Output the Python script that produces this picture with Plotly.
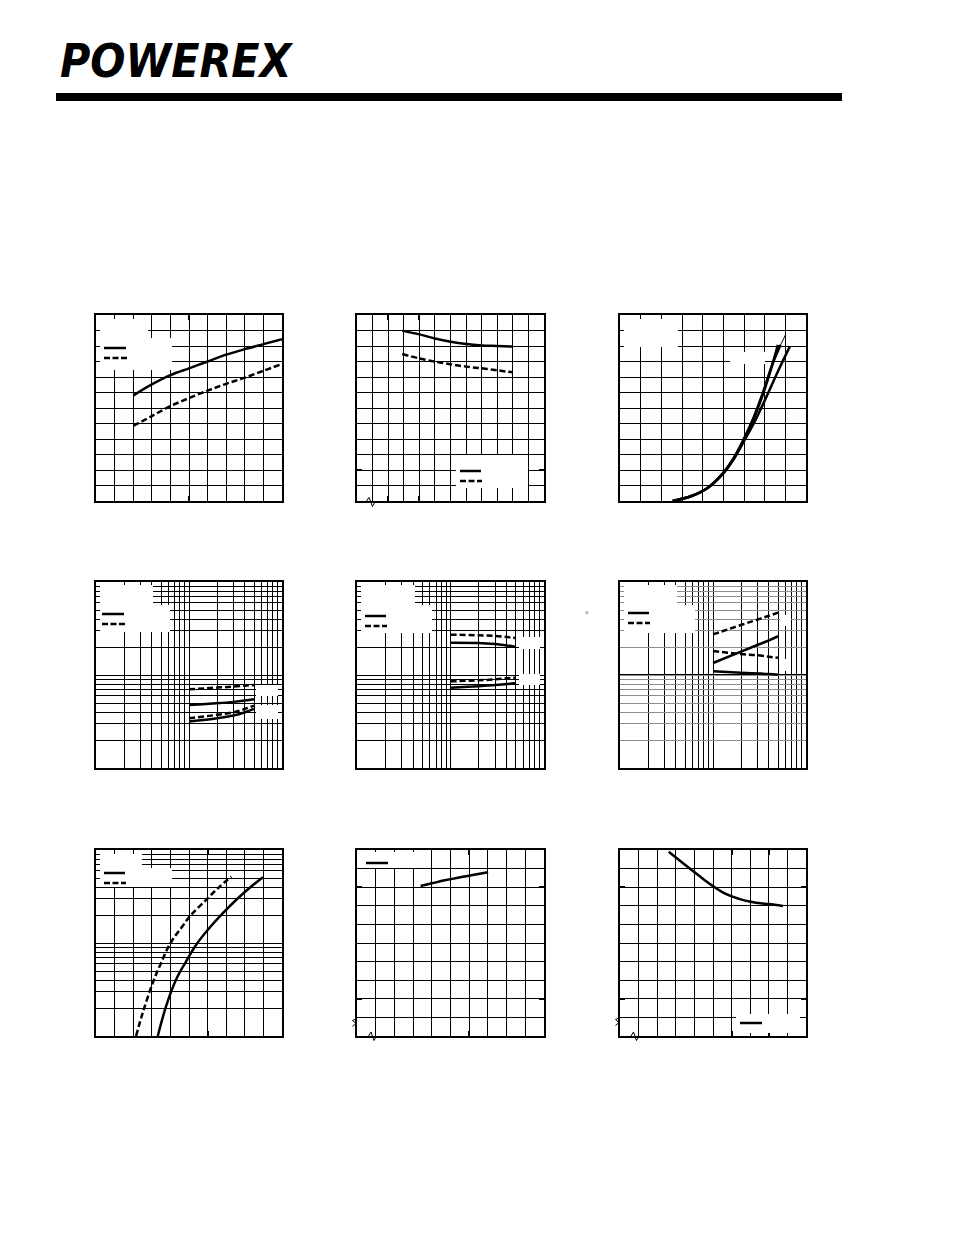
import plotly.graph_objects as go

OFF = 8                      # default page margin of the written html
W, H = 954 - 2 * OFF, 1235 - 2 * OFF

# ---------------- data ----------------
# Chart 1 (linear / linear)
c1_x_solid = [20, 30, 40, 50, 60, 70, 80, 90, 100]
c1_y_solid = [1.70, 1.88, 2.03, 2.14, 2.25, 2.36, 2.45, 2.53, 2.61]
c1_x_dash = [20, 30, 40, 50, 60, 70, 80, 90, 99]
c1_y_dash = [1.21, 1.37, 1.53, 1.66, 1.78, 1.89, 1.99, 2.10, 2.20]

# Chart 2 (linear / linear, broken axis)
c2_x = [29, 40, 50, 60, 70, 80, 90, 100]
c2_y_solid = [1.899, 1.875, 1.849, 1.828, 1.813, 1.804, 1.800, 1.796]
c2_y_dash = [1.748, 1.720, 1.699, 1.682, 1.667, 1.656, 1.643, 1.630]

# Chart 3 (linear / linear) - bundle of transfer curves
c3_xa = [5.1, 6.9, 8.5, 10.0, 11.05, 12.0, 12.97, 13.93, 14.64, 15.28]
c3_ya = [0, 3.2, 8.6, 18.2, 27.9, 39.6, 53.6, 70.7, 85.7, 100.7]
c3_xb = [5.1, 6.9, 8.5, 10.0, 11.05, 12.0, 12.97, 13.93, 14.73, 15.53]
c3_yb = [0, 3.2, 8.6, 18.2, 28.3, 40.3, 54.6, 71.8, 87.9, 100.7]
c3_xc = [5.1, 6.9, 8.5, 10.0, 11.05, 12.0, 13.13, 14.19, 15.28, 16.43]
c3_yc = [0, 3.0, 8.4, 17.8, 27.4, 38.6, 52.5, 67.5, 83.6, 99.6]
c3_xd = [13.93, 14.89, 16.01]
c3_yd = [72.9, 91.1, 107.1]

# Chart 4 (log / log)
c4_x = [10, 20, 30, 40, 50]
c4_y_dash_hi = [0.702, 0.732, 0.750, 0.768, 0.781]
c4_y_solid_hi = [0.477, 0.497, 0.514, 0.531, 0.548]
c4_y_dash_lo = [0.343, 0.373, 0.398, 0.432, 0.469]
c4_y_solid_lo = [0.316, 0.343, 0.367, 0.398, 0.432]

# Chart 5 (log / log)
c5_x = [10, 20, 30, 40, 50]
c5_y_dash_hi = [271.5, 267, 263, 256, 250]
c5_y_solid_hi = [222.6, 221, 215, 208, 200]
c5_y_dash_lo = [85.5, 87.6, 89.8, 92.1, 93.6]
c5_y_solid_lo = [73.1, 75.5, 78.0, 80.0, 82.0]

# Chart 6 (log / log)
c6_x = [10, 20, 30, 40, 50]
c6_y_dash_hi = [2.73, 3.45, 3.94, 4.34, 4.68]
c6_y_solid_hi = [1.346, 1.78, 2.10, 2.36, 2.61]
c6_y_dash_lo = [1.81, 1.68, 1.63, 1.57, 1.53]
c6_y_solid_lo = [1.095, 1.06, 1.04, 1.025, 1.008]

# Chart 7 (linear / log)
c7_x_dash = [1.077, 1.257, 1.526, 1.750, 2.002, 2.289, 2.558, 2.962, 3.276, 3.636]
c7_y_dash = [10, 17.8, 37.3, 61.1, 100, 144.8, 201, 291, 388, 518]
c7_x_solid = [1.661, 1.885, 2.154, 2.424, 2.693, 3.007, 3.366, 3.815, 4.174, 4.488]
c7_y_solid = [10, 20.97, 40.5, 63.6, 95.9, 139, 201, 303, 405, 509]

# Chart 8 (linear / linear, broken axes)
c8_x = [34.0, 40.1, 46.9, 54.0, 61.1, 70.1]
c8_y = [8.065, 8.208, 8.369, 8.513, 8.638, 8.799]

# Chart 9 (linear / linear, broken axes)
c9_x = [26.2, 32.9, 39.7, 45.4, 50.4, 55.2, 60.5, 64.9, 70.3, 75.6, 80.1, 87.7]
c9_y = [9.91, 9.373, 8.835, 8.387, 8.029, 7.724, 7.491, 7.348, 7.222, 7.133, 7.097, 6.989]

# ---------------- layout geometry (screen pixels) ----------------
COLS = [(96, 282), (357, 544), (620, 806)]
ROWS = [(315, 501), (582, 768), (850, 1036)]


def px(x):
    return (x - OFF) / W


def py(y):
    return 1 - (y - OFF) / H


def box_of(i):
    c = COLS[(i - 1) % 3]
    r = ROWS[(i - 1) // 3]
    return c, r


def lin_axis(rng, dom, div, major, anchor):
    return dict(
        range=rng, domain=dom, anchor=anchor, type="linear",
        tickmode="array", tickvals=major, ticks="inside", ticklen=5,
        tickwidth=2, tickcolor="black",
        showgrid=True, gridcolor="black", gridwidth=1.3,
        minor=dict(dtick=div, tick0=rng[0], showgrid=True, gridcolor="black",
                   gridwidth=1.3, ticks=""),
        showline=True, linecolor="black", linewidth=2, mirror="ticks",
        showticklabels=False, zeroline=False, fixedrange=True,
    )


def log_axis(rng, dom, anchor, gridcolor="black"):
    return dict(
        range=rng, domain=dom, anchor=anchor, type="log", dtick="D1",
        showgrid=True, gridcolor=gridcolor, gridwidth=1.3, ticks="",
        showline=True, linecolor="black", linewidth=2, mirror=True,
        showticklabels=False, zeroline=False, fixedrange=True,
    )


axes_spec = {
    1: (("lin", [0, 100], 10, [50]), ("lin", [0, 3.0], 0.25, [])),
    2: (("lin", [0, 120], 10, [20, 40]), ("lin", [0.8, 2.0], 0.1, [1.0])),
    3: (("lin", [0, 18], 2, []), ("lin", [0, 120], 10, [])),
    4: (("log", [0, 2]), ("log", [-1, 1])),
    5: (("log", [0, 2]), ("log", [1, 3])),
    6: (("log", [0, 2]), ("log", [-1, 1])),
    7: (("lin", [0, 5], 0.5, [3.0]), ("log", [1, 3])),
    8: (("lin", [0, 100], 10, [60]), ("lin", [0, 10], 1, [2, 8])),
    9: (("lin", [0, 100], 10, [60, 80]), ("lin", [0, 10], 1, [2, 8])),
}

layout = dict(
    width=W, height=H, margin=dict(l=0, r=0, t=0, b=0),
    paper_bgcolor="white", plot_bgcolor="white", showlegend=False,
)

for i in range(1, 10):
    (cx0, cx1), (ry0, ry1) = box_of(i)
    xdom = [px(cx0), px(cx1)]
    ydom = [py(ry1), py(ry0)]
    xs, ys = axes_spec[i]
    xn = "xaxis" if i == 1 else f"xaxis{i}"
    yn = "yaxis" if i == 1 else f"yaxis{i}"
    xa = f"y{'' if i == 1 else i}"
    ya = f"x{'' if i == 1 else i}"
    if xs[0] == "lin":
        layout[xn] = lin_axis(xs[1], xdom, xs[2], xs[3], xa)
    else:
        layout[xn] = log_axis(xs[1], xdom, xa)
    if ys[0] == "lin":
        layout[yn] = lin_axis(ys[1], ydom, ys[2], ys[3], ya)
    else:
        layout[yn] = log_axis(ys[1], ydom, ya, gridcolor="#8c8c8c" if i == 6 else "black")

fig = go.Figure(layout=layout)

DASH = "6px,3px"
KEY_DASH = "6px,2.5px"


def add(i, x, y, dash=False, width=2.5, shape="spline"):
    s = "" if i == 1 else str(i)
    fig.add_trace(go.Scatter(
        x=x, y=y, mode="lines", xaxis="x" + s, yaxis="y" + s,
        line=dict(color="black", width=width, dash=DASH if dash else "solid", shape=shape),
        hoverinfo="skip",
    ))


add(1, c1_x_solid, c1_y_solid)
add(1, c1_x_dash, c1_y_dash, dash=True)
add(2, c2_x, c2_y_solid)
add(2, c2_x, c2_y_dash, dash=True)
add(3, c3_xa, c3_ya)
add(3, c3_xb, c3_yb)
add(3, c3_xc, c3_yc)
add(3, c3_xd, c3_yd, width=1)
add(4, c4_x, c4_y_dash_hi, dash=True)
add(4, c4_x, c4_y_solid_hi)
add(4, c4_x, c4_y_solid_lo)
add(4, c4_x, c4_y_dash_lo, dash=True)
add(5, c5_x, c5_y_dash_hi, dash=True)
add(5, c5_x, c5_y_solid_hi)
add(5, c5_x, c5_y_dash_lo, dash=True)
add(5, c5_x, c5_y_solid_lo)
add(6, c6_x, c6_y_dash_hi, dash=True)
add(6, c6_x, c6_y_solid_hi)
add(6, c6_x, c6_y_dash_lo, dash=True)
add(6, c6_x, c6_y_solid_lo)
add(7, c7_x_dash, c7_y_dash, dash=True)
add(7, c7_x_solid, c7_y_solid)
add(8, c8_x, c8_y)
add(9, c9_x, c9_y)

shapes = []


def white_box(x0, y0, x1, y1):
    shapes.append(dict(type="rect", xref="paper", yref="paper", layer="above",
                       x0=px(x0), x1=px(x1), y0=py(y1), y1=py(y0),
                       fillcolor="white", line=dict(width=0)))


def key(x0, x1, y, dash=False):
    shapes.append(dict(type="line", xref="paper", yref="paper", layer="above",
                       x0=px(x0), x1=px(x1), y0=py(y), y1=py(y),
                       line=dict(color="black", width=2.5, dash=KEY_DASH if dash else "solid")))


# chart 1
white_box(100, 319, 148, 338)
white_box(100, 338, 172, 370)
key(104, 126, 348)
key(104, 127, 358, dash=True)
# chart 2
white_box(456, 455, 528, 488)
key(460, 481, 471)
key(460, 482, 481, dash=True)
# chart 3
white_box(624, 319, 678, 347)
white_box(730, 352, 765, 364)
# chart 4
white_box(100, 585, 153, 605)
white_box(100, 605, 170, 632)
white_box(256, 685, 278, 696)
white_box(256, 705, 278, 719)
key(102, 124, 614)
key(102, 125, 624, dash=True)
# chart 5
white_box(361, 585, 415, 605)
white_box(361, 605, 432, 633)
white_box(519, 637, 540, 649)
white_box(519, 674, 540, 685)
key(365, 386, 616)
key(365, 387, 626, dash=True)
# chart 6
white_box(624, 585, 677, 605)
white_box(624, 605, 695, 633)
white_box(780, 615, 791, 626)
white_box(780, 659, 791, 671)
key(628, 649, 613)
key(628, 650, 623, dash=True)
# decade line of chart 6 (black, over the grey grid)
shapes.append(dict(type="line", xref="x6 domain", yref="y6 domain", layer="below",
                   x0=0, x1=1, y0=0.5, y1=0.5, line=dict(color="black", width=2)))
# chart 7
white_box(100, 854, 142, 868)
white_box(100, 868, 172, 887)
key(104, 125, 873)
key(104, 126, 883, dash=True)
# chart 8
white_box(361, 852, 427, 868)
key(366, 388, 863)
# chart 9
white_box(736, 1014, 800, 1033)
key(740, 762, 1023)


def zig(points):
    d = "M " + " L ".join(f"{px(a):.5f},{py(b):.5f}" for a, b in points)
    shapes.append(dict(type="path", xref="paper", yref="paper", layer="above",
                       path=d, line=dict(color="black", width=1)))


# axis-break marks
zig([(366.5, 501), (369, 497.5), (372.5, 506.5), (375.5, 501)])
zig([(368.5, 1036), (371, 1032), (374, 1040.5), (376.5, 1036)])
zig([(357, 1018.5), (352.5, 1020.5), (356, 1023.5), (352.5, 1026.5)])
zig([(631, 1036), (633.5, 1032), (636.5, 1040.5), (639, 1036)])
zig([(620, 1017.5), (615.5, 1019.5), (619, 1022.5), (615.5, 1025.5)])

# header bar
shapes.append(dict(type="rect", xref="paper", yref="paper", layer="above",
                   x0=px(56), x1=px(842), y0=py(101), y1=py(93),
                   fillcolor="black", line=dict(width=0)))

fig.update_layout(shapes=shapes)

fig.add_annotation(
    xref="paper", yref="paper", x=px(58), y=py(61), xanchor="left", yanchor="middle",
    text="<b><i>POWEREX</i></b>", showarrow=False,
    font=dict(family="DejaVu Sans Condensed, DejaVu Sans, sans-serif",
              size=46, color="black"),
)
fig.add_annotation(
    xref="paper", yref="paper", x=px(587), y=py(612), xanchor="center", yanchor="middle",
    text="a", showarrow=False, font=dict(family="Liberation Sans", size=6, color="#888888"),
)

fig.write_html("out.html")
